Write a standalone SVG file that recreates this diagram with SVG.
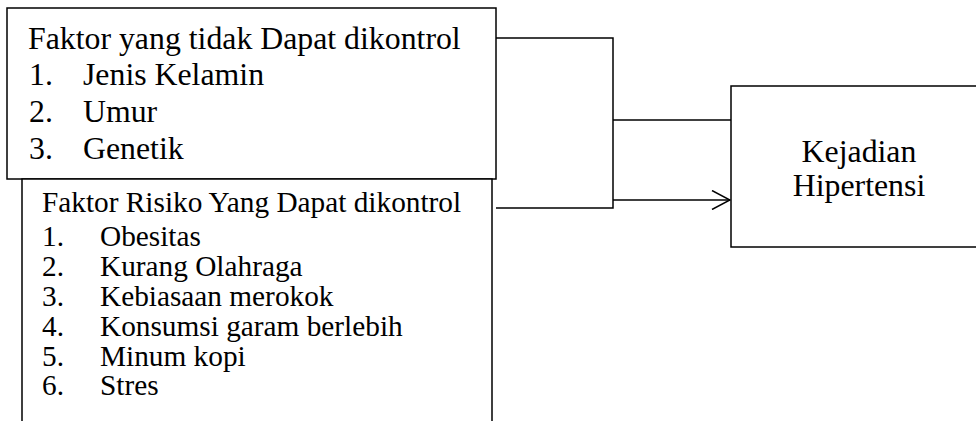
<svg xmlns="http://www.w3.org/2000/svg" width="976" height="421" viewBox="0 0 976 421">
  <style>
    .box { fill: #ffffff; stroke: #000000; stroke-width: 1.5; }
    .wire { fill: none; stroke: #000000; stroke-width: 1.5; }
    .t1 { font-family: "Liberation Serif", "Times New Roman", serif; font-size: 31.8px; fill: #000000; }
    .t2 { font-family: "Liberation Serif", "Times New Roman", serif; font-size: 29.3px; fill: #000000; }
  </style>
  <defs>
    <marker id="open-arrow" viewBox="0 0 20 20" refX="19" refY="10" markerWidth="20" markerHeight="20" markerUnits="userSpaceOnUse" orient="auto">
      <path d="M1,0.5 L19,10 L1,19.5" fill="none" stroke="#000000" stroke-width="1.5"/>
    </marker>
  </defs>

  <rect width="976" height="421" fill="#ffffff"/>

  <!-- connectors -->
  <g id="connectors">
    <polyline class="wire" points="496,38 613,38 613,208 496,208"/>
    <line class="wire" x1="613" y1="120" x2="731" y2="120"/>
    <line class="wire" x1="613" y1="200" x2="730" y2="200" marker-end="url(#open-arrow)"/>
  </g>

  <!-- risk factors that cannot be controlled -->
  <g id="node-tidak-dikontrol">
    <rect class="box" x="7" y="8" width="489" height="171"/>
    <g class="t1">
      <text x="28" y="49">Faktor yang tidak Dapat dikontrol</text>
      <text x="29" y="85">1.</text>
      <text x="83" y="85">Jenis Kelamin</text>
      <text x="29" y="122">2.</text>
      <text x="83" y="122">Umur</text>
      <text x="29" y="159">3.</text>
      <text x="83" y="159">Genetik</text>
    </g>
  </g>

  <!-- risk factors that can be controlled -->
  <g id="node-dapat-dikontrol">
    <polyline class="box" points="22,430 22,179 492,179 492,430"/>
    <g class="t2">
      <text x="42" y="212">Faktor Risiko Yang Dapat dikontrol</text>
      <text x="42" y="246">1.</text>
      <text x="100" y="246">Obesitas</text>
      <text x="42" y="276">2.</text>
      <text x="100" y="276">Kurang Olahraga</text>
      <text x="42" y="306">3.</text>
      <text x="100" y="306">Kebiasaan merokok</text>
      <text x="42" y="336">4.</text>
      <text x="100" y="336">Konsumsi garam berlebih</text>
      <text x="42" y="366">5.</text>
      <text x="100" y="366">Minum kopi</text>
      <text x="42" y="395">6.</text>
      <text x="100" y="395">Stres</text>
    </g>
  </g>

  <!-- outcome -->
  <g id="node-hipertensi">
    <rect class="box" x="731" y="86" width="260" height="161"/>
    <g class="t1" text-anchor="middle">
      <text x="859" y="162">Kejadian</text>
      <text x="859" y="196">Hipertensi</text>
    </g>
  </g>
</svg>
